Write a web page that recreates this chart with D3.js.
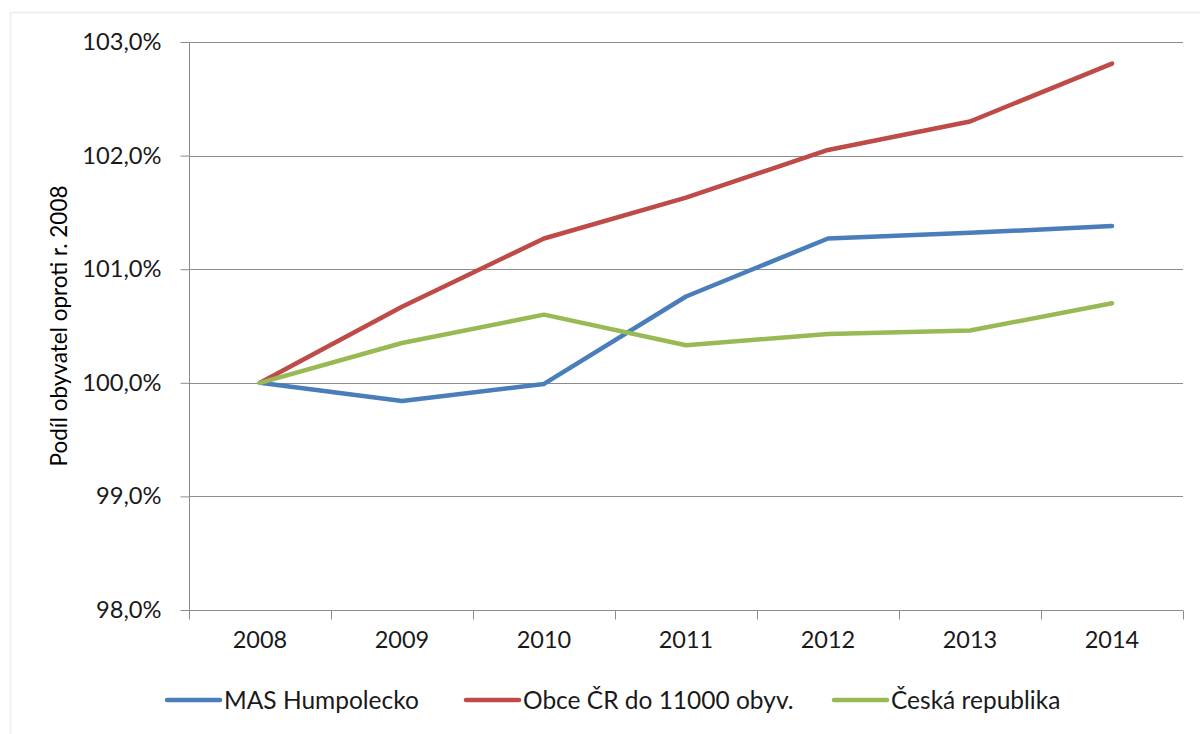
<!DOCTYPE html>
<html><head><meta charset="utf-8">
<script src="https://cdn.jsdelivr.net/npm/d3@7"></script>
<style>body{margin:0;background:#fff;}svg{display:block;}</style>
</head><body>
<svg id="c" width="1200" height="734"></svg>
<script>
const years = ["2008","2009","2010","2011","2012","2013","2014"];
const masHumpolecko = [100.00, 99.84, 99.99, 100.76, 101.27, 101.32, 101.38];
const obceCR = [100.00, 100.67, 101.27, 101.63, 102.05, 102.30, 102.81];
const ceskaRepublika = [100.00, 100.35, 100.60, 100.33, 100.43, 100.46, 100.70];
const seriesNames = ["MAS Humpolecko","Obce ČR do 11000 obyv.","Česká republika"];
const yTicks = [98, 99, 100, 101, 102, 103];
const colors = ["#4a7ebb","#be4b48","#98b954"];
const font = "Lato, 'Open Sans', sans-serif";

const svg = d3.select("#c");
svg.append("rect").attr("x",10.5).attr("y",12.5).attr("width",1300).attr("height",900)
  .attr("fill","#fff").attr("stroke","#ececec").attr("stroke-width",1.5);

const L=189, R=1183, T=42, B=610;
const x = d3.scaleBand().domain(years).range([L,R]);
const y = d3.scaleLinear().domain([98,103]).range([B,T]);

// gridlines
svg.append("g").selectAll("line").data(yTicks.filter(d=>d>98)).join("line")
  .attr("x1",L).attr("x2",R).attr("y1",d=>Math.round(y(d))+0.5).attr("y2",d=>Math.round(y(d))+0.5)
  .attr("stroke","#8c8c8c").attr("stroke-width",1);

// y axis
const yAxis = svg.append("g").attr("transform",`translate(${L+0.5},0)`)
  .call(d3.axisLeft(y).tickValues(yTicks).tickSize(9).tickPadding(19)
    .tickFormat(d=>d3.format(".1f")(d).replace(".",",")+"%"));
yAxis.select(".domain").attr("stroke","#8c8c8c").attr("d",`M0,${T}V${B}`);
yAxis.selectAll(".tick line").attr("stroke","#8c8c8c");
yAxis.selectAll(".tick text").attr("font-family",font).attr("font-size",23.7).attr("fill","#1a1a1a");

// x axis
const xAxis = svg.append("g").attr("transform",`translate(0,${B+0.5})`)
  .call(d3.axisBottom(x).tickSize(0).tickPadding(21));
xAxis.select(".domain").attr("stroke","#8c8c8c").attr("d",`M${L},0H${R}`);
xAxis.selectAll(".tick text").attr("font-family",font).attr("font-size",23.5).attr("fill","#1a1a1a");
const bounds = years.map(d=>x(d)).concat([R]);
xAxis.selectAll("line.b").data(bounds).join("line").attr("class","b")
  .attr("x1",d=>Math.round(d)+0.5).attr("x2",d=>Math.round(d)+0.5).attr("y1",0).attr("y2",9)
  .attr("stroke","#8c8c8c");

// y title
svg.append("text").attr("transform",`translate(67,${(T+B)/2}) rotate(-90)`)
  .attr("text-anchor","middle").attr("font-family",font).attr("font-size",22.5)
  .attr("fill","#000").text("Podíl obyvatel oproti r. 2008");

// lines
const data = [masHumpolecko, obceCR, ceskaRepublika];
const line = d3.line().x((d,i)=>x(years[i])+x.bandwidth()/2).y(d=>y(d));
const order = [1,0,2];
order.forEach(k=>{
  svg.append("path").attr("d",line(data[k])).attr("fill","none").attr("stroke",colors[k])
    .attr("stroke-width",4.5).attr("stroke-linejoin","round").attr("stroke-linecap","round");
});

// legend
const legX = [167, 466, 834];
const legY = 700;
seriesNames.forEach((n,i)=>{
  svg.append("line").attr("x1",legX[i]).attr("x2",legX[i]+53).attr("y1",legY).attr("y2",legY)
    .attr("stroke",colors[i]).attr("stroke-width",4.5).attr("stroke-linecap","round");
  svg.append("text").attr("x",legX[i]+57).attr("y",legY+8.5).attr("font-family",font).attr("font-size",24.5)
    .attr("fill","#1a1a1a").text(n);
});
</script>
</body></html>
